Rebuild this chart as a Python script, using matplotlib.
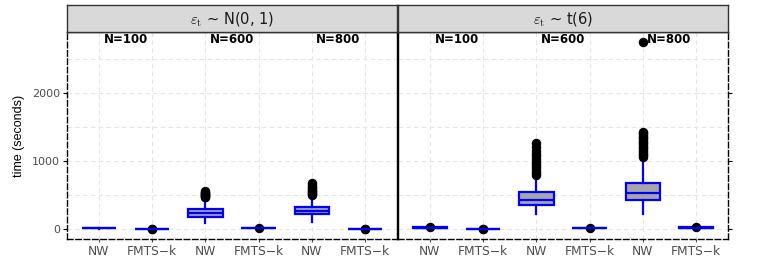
import numpy as np
import matplotlib.pyplot as plt

plt.rcParams['font.family'] = ['DejaVu Sans']
plt.rcParams['mathtext.fontset'] = 'cm'

categories = ["NW", "FMTS\u2212k", "NW", "FMTS\u2212k", "NW", "FMTS\u2212k"]
group_labels = ["N=100", "N=600", "N=800"]
panel_titles = [r"$\varepsilon_{\mathrm{t}}$ ~ N(0, 1)",
                r"$\varepsilon_{\mathrm{t}}$ ~ t(6)"]

# (whislo, q1, med, q3, whishi) per category, seconds
normal_stats = [
    (5, 8, 12, 16, 20),
    (-5, -2, 0, 2, 5),
    (95, 175, 232, 290, 455),
    (3, 8, 10, 12, 17),
    (108, 220, 268, 328, 500),
    (-5, -2, 0, 2, 5),
]
normal_fliers = [
    [],
    [-6, 4],
    [465, 475, 485, 495, 505, 515, 525, 535, 545, 555],
    [20],
    [505, 520, 535, 550, 565, 580, 600, 620, 645, 672],
    [-6, 4],
]

t6_stats = [
    (10, 16, 20, 24, 30),
    (-5, -2, 0, 2, 5),
    (216, 358, 430, 540, 784),
    (5, 10, 12, 14, 19),
    (216, 431, 534, 681, 1040),
    (10, 16, 20, 24, 30),
]
t6_fliers = [
    [35],
    [-6, 4],
    [800, 830, 860, 890, 920, 955, 990, 1030, 1070, 1110, 1150, 1200, 1270],
    [22],
    [1060, 1085, 1110, 1135, 1160, 1185, 1210, 1235, 1260, 1285, 1310,
     1335, 1360, 1385, 1410, 1425, 2750],
    [35],
]

fig = plt.figure(figsize=(7.61, 2.73), dpi=100)

W, H = 761, 273
panels = [(67, normal_stats, normal_fliers, panel_titles[0]),
          (398, t6_stats, t6_fliers, panel_titles[1])]
pw = 330
top, bot, strip_top = 32, 239, 5

for i, (x0, stats, fliers, title) in enumerate(panels):
    ax = fig.add_axes([x0 / W, 1 - bot / H, pw / W, (bot - top) / H])
    bstats = []
    for (lo, q1, med, q3, hi), fl in zip(stats, fliers):
        bstats.append(dict(whislo=lo, q1=q1, med=med, q3=q3, whishi=hi, fliers=fl))
    pos = np.arange(1, len(categories) + 1)
    ax.bxp(bstats, positions=pos, widths=0.65, patch_artist=True,
           boxprops=dict(facecolor="#A6A6A6", edgecolor="blue", linewidth=1.6),
           medianprops=dict(color="blue", linewidth=1.6),
           whiskerprops=dict(color="blue", linewidth=1.6),
           capprops=dict(linewidth=0),
           flierprops=dict(marker="o", markerfacecolor="black", markeredgecolor="black",
                           markersize=5.8),
           zorder=3)
    ax.set_xlim(0.4, 6.6)
    ax.set_ylim(-147, 2897)
    ax.set_xticks(pos)
    ax.set_xticklabels(categories)
    ax.set_yticks([0, 1000, 2000])
    ax.set_yticks([500, 1500, 2500], minor=True)
    ax.grid(True, which="both", color="#E5E5E5", linestyle=(0, (4, 3)), linewidth=0.8)
    ax.set_axisbelow(True)
    ax.tick_params(axis="x", colors="#4D4D4D", labelsize=8.8, length=2.5, pad=2)
    ax.tick_params(axis="y", colors="black", labelcolor="#4D4D4D", labelsize=8,
                   length=3, pad=2)
    ax.tick_params(axis="y", which="minor", length=0)
    for j, g in enumerate(group_labels):
        ax.text(1.5 + 2 * j, 2780, g, ha="center", va="center",
                fontsize=8.5, fontweight="bold")
    for s in ax.spines.values():
        s.set_color("black")
        s.set_linewidth(1.0)
    ax.spines["bottom"].set_linestyle((0, (4, 2)))
    if i == 0:
        ax.spines["left"].set_linestyle((0, (4, 2)))
        ax.set_ylabel("time (seconds)", fontsize=9, labelpad=5,
                      family="Liberation Sans")
    else:
        ax.spines["right"].set_linestyle((0, (4, 2)))
        ax.yaxis.tick_right()
        ax.tick_params(axis="y", labelright=False)

    sax = fig.add_axes([x0 / W, 1 - top / H, pw / W, (top - strip_top) / H])
    sax.set_facecolor("#D9D9D9")
    sax.set_xticks([])
    sax.set_yticks([])
    for s in sax.spines.values():
        s.set_color("#333333")
        s.set_linewidth(1.0)
    sax.text(0.5, 0.5, title, ha="center", va="center", fontsize=10.5,
             color="#1A1A1A", transform=sax.transAxes)

fig.savefig("out.png", dpi=100)
